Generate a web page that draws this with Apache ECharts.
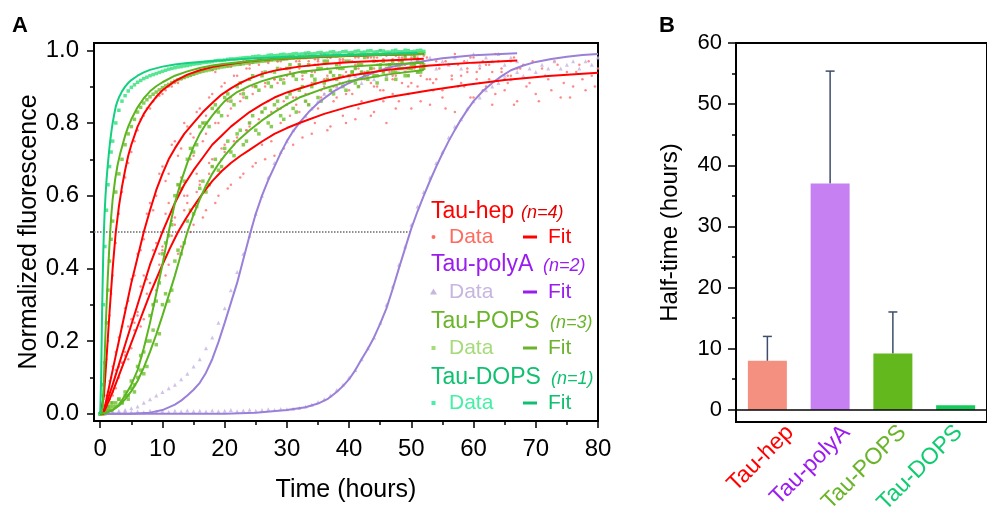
<!DOCTYPE html>
<html><head><meta charset="utf-8">
<script src="https://cdn.jsdelivr.net/npm/echarts@6/dist/echarts.min.js"></script>
<style>html,body{margin:0;padding:0;background:#fff}#c{width:987px;height:517px}</style>
</head><body><div id="c"></div>
<script>
// ---------- Panel A : time axes (hours) ----------
const tA = [0,0.25,0.5,0.75,1,1.25,1.5,1.75,2,2.5,3,3.5,4,4.5,5,5.5,6,7,8,9,10,11,12,13,14,15,16,17,18,19,20,21,22,23,24,25,26,27,28,29,30,31,32,33,34,35,36,37,38,39,40,41,42,43,44,45,46,47,48,49,50,51,52];
const tH = [6.5,7.5,8.5,9.5,10.5,11.5,12.5,13.5,14.5,15.5,16.5,17.5,18.5,19.5,20.5,21.5,22.5,23.5,24.5,25.5,26.5,27.5,28.5,29.5,30.5,31.5,32.5,33.5,34.5,35.5,36.5,37.5,38.5,39.5,40.5,41.5,42.5,43.5,44.5,45.5,46.5,47.5,48.5,49.5,50.5,51.5];
const t67 = [0,1,2,3,4,5,6,7,8,9,10,11,12,13,14,15,16,17,18,19,20,21,22,23,24,25,26,27,28,29,30,31,32,33,34,35,36,37,38,39,40,41,42,43,44,45,46,47,48,49,50,51,52,53,54,55,56,57,58,59,60,61,62,63,64,65,66,67];
const tH67 = [0.5,1.5,2.5,3.5,4.5,5.5,6.5,7.5,8.5,9.5,10.5,11.5,12.5,13.5,14.5,15.5,16.5,17.5,18.5,19.5,20.5,21.5,22.5,23.5,24.5,25.5,26.5,27.5,28.5,29.5,30.5,31.5,32.5,33.5,34.5,35.5,36.5,37.5,38.5,39.5,40.5,41.5,42.5,43.5,44.5,45.5,46.5,47.5,48.5,49.5,50.5,51.5,52.5,53.5,54.5,55.5,56.5,57.5,58.5,59.5,60.5,61.5,62.5,63.5,64.5,65.5,66.5];
const t80 = [0,1,2,3,4,5,6,7,8,9,10,11,12,13,14,15,16,17,18,19,20,21,22,23,24,25,26,27,28,29,30,31,32,33,34,35,36,37,38,39,40,41,42,43,44,45,46,47,48,49,50,51,52,53,54,55,56,57,58,59,60,61,62,63,64,65,66,67,68,69,70,71,72,73,74,75,76,77,78,79,80];
const tH80 = [0.5,1.5,2.5,3.5,4.5,5.5,6.5,7.5,8.5,9.5,10.5,11.5,12.5,13.5,14.5,15.5,16.5,17.5,18.5,19.5,20.5,21.5,22.5,23.5,24.5,25.5,26.5,27.5,28.5,29.5,30.5,31.5,32.5,33.5,34.5,35.5,36.5,37.5,38.5,39.5,40.5,41.5,42.5,43.5,44.5,45.5,46.5,47.5,48.5,49.5,50.5,51.5,52.5,53.5,54.5,55.5,56.5,57.5,58.5,59.5,60.5,61.5,62.5,63.5,64.5,65.5,66.5,67.5,68.5,69.5,70.5,71.5,72.5,73.5,74.5,75.5,76.5,77.5,78.5,79.5];

// ---------- Panel A : measured data (normalized fluorescence) ----------
const hepA_data = [0,0.01,0.04,0.09,0.15,0.2,0.27,0.33,0.38,0.47,0.55,0.61,0.65,0.69,0.72,0.75,0.78,
  0.82,0.84,0.87,0.88,0.9,0.91,0.92,0.93,0.935,0.94,0.95,0.945,0.955,0.96,0.955,0.965,0.97,0.96,0.97,0.975,
  0.965,0.98,0.97,0.975,0.985,0.97,0.98,0.985,0.975,0.99,0.98,0.985,0.975,0.99,0.98,0.985,0.99,0.98,0.99,0.985,
  0.975,0.99,0.985,0.98,0.99,0.985];
const hepA_data2 = [0.81,0.84,0.86,0.875,0.89,0.9,0.91,0.925,0.93,0.94,
  0.945,0.95,0.94,0.96,0.955,0.965,0.96,0.97,0.965,0.975,
  0.97,0.98,0.97,0.975,0.985,0.97,0.98,0.99,0.975,0.985,
  0.98,0.99,0.975,0.985,0.99,0.98,0.985,0.99,0.98,0.975,
  0.99,0.985,0.98,0.99,0.985,0.99];
const hepB_data = [0,0,0.01,0.02,0.05,0.06,0.09,0.1,0.13,0.17,0.21,0.24,0.29,0.31,0.37,0.38,0.44,
  0.48,0.58,0.6,0.68,0.66,0.75,0.73,0.79,0.76,0.84,0.82,0.88,0.84,0.91,0.87,0.93,0.89,0.95,0.9,0.94,
  0.97,0.92,0.95,0.98,0.93,0.96,0.99,0.94,0.97,0.92,0.98,0.95,0.93,0.99,0.96,0.94,0.98,0.95,1.0,0.96,
  0.93,0.98,0.96,0.99,0.94,0.97];
const hepB_data2 = [0.45,0.55,0.56,0.66,0.64,0.74,0.71,0.8,0.77,0.83,
  0.8,0.87,0.83,0.9,0.86,0.93,0.88,0.95,0.9,0.96,
  0.91,0.94,0.97,0.92,0.95,0.98,0.93,0.97,0.94,0.99,
  0.95,0.92,0.97,0.94,0.99,0.95,0.93,0.98,0.96,0.94,
  0.99,0.95,0.97,0.93,0.98,0.96];
const hepC_data = [0,0.01,0.06,0.13,0.17,0.26,0.28,0.38,0.36,0.47,
  0.46,0.58,0.54,0.65,0.6,0.71,0.64,0.77,0.7,0.8,
  0.74,0.84,0.76,0.87,0.8,0.9,0.83,0.86,0.92,0.84,
  0.93,0.87,0.95,0.86,0.91,0.96,0.88,0.94,0.9,0.97,
  0.89,0.95,0.92,0.98,0.9,0.96,0.93,0.88,0.97,0.94,
  0.91,0.98,0.95,0.92,0.97,0.89,0.96,0.99,0.93,0.95,
  0.98,0.91,0.96,0.94,0.99,0.92,0.97,0.95];
const hepC_data2 = [0,0.04,0.12,0.14,0.24,0.25,0.35,0.37,0.45,0.44,
  0.55,0.53,0.63,0.6,0.7,0.66,0.75,0.69,0.8,0.73,
  0.82,0.75,0.86,0.78,0.88,0.81,0.9,0.83,0.91,0.86,
  0.94,0.85,0.92,0.88,0.96,0.87,0.93,0.9,0.96,0.88,
  0.97,0.9,0.94,0.91,0.97,0.89,0.95,0.93,0.99,0.9,
  0.96,0.93,0.98,0.91,0.95,0.97,0.92,0.96,0.9,0.98,
  0.94,0.97,0.92,0.99,0.95,0.93,0.98];
const hepD_data = [0,0.02,0.05,0.1,0.16,0.18,0.27,0.26,0.36,0.34,
  0.45,0.41,0.52,0.46,0.58,0.52,0.63,0.56,0.68,0.6,
  0.72,0.63,0.75,0.66,0.79,0.69,0.74,0.82,0.71,0.8,
  0.85,0.74,0.83,0.88,0.77,0.84,0.9,0.79,0.87,0.82,
  0.91,0.81,0.86,0.93,0.83,0.89,0.8,0.92,0.86,0.94,
  0.84,0.9,0.95,0.85,0.92,0.87,0.96,0.83,0.91,0.94,
  0.87,0.95,0.9,0.85,0.97,0.89,0.93,0.86,0.96,0.91,
  0.88,0.95,0.92,0.97,0.87,0.94,0.9,0.96,0.89,0.93,0.95];
const hepD_data2 = [0.01,0.04,0.07,0.14,0.15,0.23,0.24,0.33,0.3,0.41,
  0.38,0.49,0.44,0.56,0.5,0.61,0.54,0.66,0.58,0.7,
  0.62,0.74,0.65,0.78,0.68,0.8,0.7,0.75,0.84,0.73,
  0.82,0.87,0.76,0.85,0.8,0.89,0.78,0.86,0.91,0.8,
  0.88,0.84,0.92,0.82,0.9,0.86,0.94,0.84,0.91,0.88,
  0.95,0.86,0.92,0.89,0.96,0.84,0.93,0.9,0.97,0.87,
  0.92,0.89,0.96,0.88,0.94,0.91,0.85,0.95,0.9,0.97,
  0.86,0.93,0.89,0.96,0.91,0.87,0.94,0.92,0.97,0.9];
const polyA1_data = [0,0.005,0.003,0.008,0.01,0.015,0.02,0.03,0.04,0.05,
  0.06,0.07,0.08,0.095,0.11,0.13,0.15,0.18,0.21,0.25,
  0.29,0.34,0.39,0.44,0.49,0.55,0.6,0.65,0.69,0.72,
  0.75,0.78,0.8,0.82,0.84,0.86,0.88,0.89,0.9,0.91,
  0.92,0.93,0.91,0.94,0.92,0.95,0.93,0.96,0.94,0.95,
  0.97,0.94,0.96,0.98,0.95,0.97,0.96,0.98,0.95,0.97,
  0.99,0.96,0.98,0.97,0.99,0.96,0.98,0.97];
const polyA2_data = [0.005,0.003,0.006,0.004,0.007,0.005,0.006,0.004,0.008,0.006,
  0.007,0.005,0.008,0.006,0.009,0.007,0.008,0.006,0.009,0.007,
  0.008,0.01,0.007,0.009,0.011,0.008,0.01,0.012,0.01,0.013,
  0.012,0.014,0.016,0.02,0.025,0.032,0.04,0.05,0.065,0.08,
  0.1,0.12,0.15,0.18,0.21,0.25,0.3,0.35,0.41,0.46,
  0.52,0.57,0.61,0.65,0.69,0.72,0.76,0.79,0.81,0.84,
  0.86,0.87,0.89,0.9,0.91,0.93,0.92,0.94,0.93,0.95,
  0.94,0.96,0.95,0.97,0.95,0.96,0.97,0.95,0.97,0.96,0.98];
const pops1_data = [0,0,0.05,0.14,0.25,0.34,0.42,0.48,0.53,0.61,0.66,0.7,0.74,0.77,0.79,0.81,0.83,
  0.855,0.872,0.885,0.897,0.906,0.915,0.922,0.928,0.934,0.94,0.944,0.948,0.952,0.955,0.958,0.961,0.963,0.966,0.968,0.97,
  0.972,0.974,0.975,0.977,0.978,0.979,0.98,0.981,0.982,0.983,0.984,0.984,0.985,0.986,0.986,0.987,0.987,0.988,0.988,0.989,
  0.989,0.99,0.99,0.99,0.991,0.991];
const pops1_data2 = [0.843,0.864,0.879,0.891,0.902,0.911,0.919,0.925,0.931,0.937,
  0.942,0.946,0.95,0.954,0.957,0.96,0.962,0.965,0.967,0.969,
  0.971,0.973,0.975,0.976,0.978,0.979,0.98,0.981,0.982,0.983,
  0.984,0.985,0.985,0.986,0.987,0.987,0.988,0.988,0.989,0.989,
  0.99,0.99,0.991,0.991,0.991,0.992];
const pops2_data = [0,0.01,0,0.02,0.01,0.02,0.01,0.03,0.02,0.03,0.04,0.03,0.06,0.05,0.09,0.08,0.13,
  0.17,0.27,0.31,0.44,0.49,0.6,0.62,0.7,0.72,0.79,0.8,0.84,0.83,0.87,0.86,0.9,0.88,0.92,0.9,0.93,
  0.91,0.94,0.92,0.95,0.93,0.96,0.94,0.93,0.95,0.97,0.94,0.96,0.95,0.97,0.95,0.96,0.94,0.97,0.96,0.95,
  0.97,0.96,0.98,0.95,0.97,0.96];
const pops2_data2 = [0.16,0.2,0.3,0.36,0.47,0.52,0.63,0.64,0.73,0.74,
  0.8,0.79,0.85,0.82,0.88,0.85,0.91,0.87,0.93,0.89,
  0.94,0.9,0.95,0.91,0.96,0.92,0.94,0.96,0.92,0.95,
  0.97,0.93,0.95,0.97,0.94,0.96,0.98,0.95,0.93,0.97,
  0.96,0.94,0.97,0.95,0.98,0.95];
const pops3_data = [0,0,0.01,0,0.02,0.01,0.02,0.01,0.03,0.02,0.04,0.03,0.05,0.04,0.07,0.06,0.1,
  0.11,0.2,0.19,0.3,0.31,0.42,0.44,0.53,0.55,0.62,0.61,0.68,0.67,0.73,0.72,0.77,0.74,0.8,0.78,0.83,
  0.8,0.85,0.82,0.87,0.84,0.89,0.86,0.9,0.87,0.91,0.89,0.92,0.9,0.93,0.91,0.94,0.92,0.93,0.95,0.92,
  0.94,0.95,0.93,0.96,0.94,0.95];
const pops3_data2 = [0.12,0.13,0.23,0.22,0.33,0.34,0.45,0.47,0.56,0.57,
  0.64,0.63,0.7,0.68,0.75,0.71,0.78,0.75,0.82,0.77,
  0.84,0.79,0.86,0.81,0.88,0.83,0.9,0.85,0.91,0.86,
  0.92,0.88,0.93,0.89,0.94,0.9,0.93,0.95,0.91,0.94,
  0.96,0.92,0.95,0.93,0.96,0.94];
const dops_data = [0,0.08,0.3,0.46,0.56,0.63,0.68,0.72,0.75,0.8,0.835,0.86,0.875,0.888,0.898,0.905,0.912,
  0.922,0.93,0.936,0.942,0.948,0.952,0.955,0.958,0.962,0.964,0.967,0.969,0.972,0.973,
  0.976,0.977,0.979,0.98,0.983,0.982,0.986,0.985,0.988,0.987,
  0.99,0.989,0.992,0.99,0.993,0.991,0.995,0.992,0.996,0.993,
  0.997,0.994,0.998,0.995,0.999,0.995,0.998,0.996,1.0,0.996,0.999,0.997];
const dops_data2 = [0.917,0.926,0.933,0.939,0.945,0.95,0.954,0.957,0.96,0.963,
  0.966,0.968,0.971,0.972,0.975,0.976,0.978,0.98,0.982,0.984,
  0.983,0.987,0.986,0.989,0.988,0.991,0.99,0.993,0.991,0.994,
  0.992,0.996,0.993,0.997,0.994,0.998,0.995,0.999,0.996,0.998,
  0.995,1.0,0.996,0.999,0.997,1.0];

// ---------- Panel A : fitted curves [time, value] ----------
const hepA_fit = [[0,0],[0.3,0],[0.6,0.05],[1,0.15],[1.5,0.28],[2,0.4],[2.5,0.5],[3,0.57],[3.5,0.625],[4,0.67],[4.5,0.71],[5,0.74],[6,0.79],[7,0.825],[8,0.85],[9,0.872],[10,0.89],[12,0.915],[14,0.933],[16,0.945],[18,0.954],[20,0.96],[24,0.97],[28,0.976],[34,0.981],[40,0.985],[46,0.988],[52,0.99]];
const hepB_fit = [[0,0],[0.5,0],[1,0.04],[2,0.12],[3,0.2],[4,0.28],[5,0.36],[6,0.43],[7,0.5],[8,0.56],[9,0.615],[10,0.66],[11,0.7],[12,0.73],[13.5,0.77],[15,0.8],[16.5,0.83],[18,0.855],[19.5,0.878],[21,0.895],[22.5,0.91],[24,0.922],[26,0.935],[28,0.944],[30,0.95],[32,0.955],[36,0.962],[40,0.967],[46,0.972],[52,0.977]];
const hepC_fit = [[0,0],[0.5,0],[1,0.03],[2,0.08],[3,0.135],[4,0.19],[5,0.245],[6,0.3],[7,0.355],[8,0.41],[9,0.455],[10,0.5],[11,0.54],[12,0.58],[13.5,0.63],[15,0.67],[16.5,0.705],[18,0.74],[19.5,0.765],[21,0.79],[22.5,0.81],[24,0.83],[26,0.851],[28,0.87],[30,0.884],[32,0.895],[36,0.915],[40,0.93],[46,0.946],[53,0.958],[60,0.966],[67,0.972]];
const hepD_fit = [[0,0],[0.5,0],[1,0.02],[2,0.06],[3,0.105],[4,0.15],[5,0.195],[6,0.24],[7,0.285],[8,0.33],[9,0.37],[10,0.41],[11.2,0.455],[12.5,0.5],[13.7,0.535],[15,0.57],[16.5,0.607],[18,0.64],[19.5,0.667],[21,0.69],[22.5,0.709],[24,0.726],[26,0.749],[28,0.77],[30,0.786],[32,0.8],[36,0.825],[40,0.845],[46,0.87],[53,0.89],[59,0.905],[65,0.918],[72,0.929],[80,0.938]];
const polyA1_fit = [[0,0],[5,0],[8,0.003],[10,0.01],[12,0.025],[13,0.036],[14,0.05],[15,0.066],[16,0.085],[17,0.113],[18,0.15],[19,0.197],[20,0.25],[21,0.305],[22,0.36],[23,0.425],[24,0.49],[25,0.55],[26,0.6],[27,0.643],[28,0.68],[29,0.717],[30,0.75],[31,0.777],[32,0.8],[33.5,0.83],[35,0.855],[37.5,0.887],[40,0.91],[42.5,0.929],[45,0.945],[47.5,0.957],[50,0.965],[55,0.978],[60,0.986],[67,0.992]];
const polyA2_fit = [[0,0],[20,0],[25,0.003],[30,0.01],[33,0.018],[35,0.028],[36.5,0.04],[38,0.06],[39,0.076],[40,0.095],[41,0.12],[42,0.15],[43,0.178],[44,0.21],[45,0.248],[46,0.29],[47,0.343],[48,0.4],[49,0.455],[50,0.51],[51,0.557],[52,0.6],[53,0.641],[54,0.68],[55,0.716],[56,0.75],[57,0.781],[58,0.81],[59,0.836],[60,0.86],[61.5,0.888],[63,0.91],[64.5,0.929],[66,0.945],[68,0.958],[70,0.968],[72.5,0.976],[75,0.982],[77.5,0.987],[80,0.99]];
const pops1_fit = [[0,0],[0.4,0.02],[0.6,0.1],[0.8,0.2],[1,0.29],[1.2,0.37],[1.5,0.47],[1.75,0.54],[2,0.59],[2.4,0.645],[2.8,0.685],[3.2,0.715],[3.6,0.74],[4,0.765],[4.5,0.79],[5,0.81],[6,0.843],[7,0.868],[8,0.887],[9,0.901],[10,0.912],[12,0.93],[14,0.942],[16,0.951],[18,0.958],[20,0.963],[25,0.972],[30,0.978],[35,0.982],[40,0.985],[46,0.988],[52,0.99]];
const pops2_fit = [[0,0],[1,0.003],[2,0.01],[3,0.025],[4,0.05],[5,0.08],[6,0.12],[7,0.18],[8,0.25],[9,0.33],[10,0.41],[11,0.5],[12,0.58],[13,0.64],[14,0.69],[15,0.735],[16,0.77],[17,0.797],[18,0.82],[19,0.841],[20,0.86],[22,0.885],[24,0.902],[26,0.915],[28,0.925],[32,0.94],[36,0.948],[40,0.955],[46,0.961],[52,0.966]];
const pops3_fit = [[0,0],[1,0.003],[2,0.01],[3,0.022],[4,0.04],[5,0.062],[6,0.09],[7,0.127],[8,0.17],[9,0.218],[10,0.27],[11,0.325],[12,0.38],[13,0.44],[14,0.5],[15,0.548],[16,0.59],[17,0.628],[18,0.66],[19,0.687],[20,0.71],[22,0.75],[24,0.78],[26,0.807],[28,0.83],[30,0.851],[32,0.87],[36,0.895],[40,0.915],[46,0.933],[52,0.946]];
const dops_fit = [[0,0],[0.15,0.1],[0.3,0.28],[0.4,0.37],[0.5,0.45],[0.6,0.505],[0.7,0.55],[0.85,0.6],[1,0.64],[1.15,0.672],[1.3,0.7],[1.45,0.727],[1.6,0.75],[1.8,0.777],[2,0.8],[2.25,0.824],[2.5,0.845],[2.75,0.859],[3,0.87],[3.5,0.887],[4,0.9],[4.5,0.91],[5,0.918],[6,0.93],[7,0.939],[8,0.946],[10,0.955],[12,0.961],[14,0.965],[16,0.968],[21,0.974],[25,0.978],[30,0.982],[35,0.985],[40,0.988],[45,0.99],[51,0.993]];
const halfLine = [[-1,0.5],[49.8,0.5]];

// ---------- Panel A : ticks ----------
const xMajor = [0,10,20,30,40,50,60,70,80];
const xMinor = [5,15,25,35,45,55,65,75];
const yMajor = [0,0.2,0.4,0.6,0.8,1.0];
const yMinor = [0.1,0.3,0.5,0.7,0.9];

// ---------- Panel B ----------
const categories = ['Tau-hep','Tau-polyA','Tau-POPS','Tau-DOPS'];
const halfTimes = [8.0, 37.0, 9.2, 0.75];
const errTop = [12.0, 55.4, 16.0, null];
const bMajor = [0,10,20,30,40,50,60];
const bMinor = [5,15,25,35,45,55];
const barColors = ['#F4907F','#C680F2','#62B81C','#12CC5A'];
const catColors = ['#FF0000','#9A1CF0','#6AB42A','#10CC70'];

function zip(ts, ys){ return ys.map((y,i)=>[ts[i], y]); }

const FONT = 'Liberation Sans, Arial, sans-serif';
const chart = echarts.init(document.getElementById('c'));

function scat(data, color, symbol, size){
  return {type:'scatter', xAxisIndex:0, yAxisIndex:0, data, symbol, symbolSize:size,
    itemStyle:{color}, silent:true};
}
function fit(data, color){
  return {type:'line', xAxisIndex:0, yAxisIndex:0, data, showSymbol:false, smooth:false,
    lineStyle:{color, width:2}, silent:true};
}
const black = '#000';
const legendRows = [];
function txt(x, y, s, color, size, italic){
  legendRows.push({type:'text', x:x, y:y, style:{text:s, fill:color, font:(italic?'italic ':'')+size+'px '+FONT, verticalAlign:'middle', align:'left'}});
}
txt(431,212,'Tau-hep','#FF0000',23); txt(521,213,'(n=4)','#E00000',18,true);
txt(449,237,'Data','#FF6B5E',21); txt(548,237,'Fit','#FF0000',21);
txt(431,265,'Tau-polyA','#9A1CF0',23); txt(543,266,'(n=2)','#9A1CF0',18,true);
txt(449,292,'Data','#C6B6E0',21); txt(548,292,'Fit','#9A1CF0',21);
txt(431,322,'Tau-POPS','#6AB42A',23); txt(550,323,'(n=3)','#6AB42A',18,true);
txt(449,348,'Data','#A5DB78',21); txt(548,348,'Fit','#6AB42A',21);
txt(431,378,'Tau-DOPS','#10C070',23); txt(551,379,'(n=1)','#10C070',18,true);
txt(449,403,'Data','#45F0A5',21); txt(548,403,'Fit','#10C070',21);

const graphics = legendRows.concat([
  {type:'text', x:12, y:26, style:{text:'A', fill:'#000', font:'bold 22px '+FONT, verticalAlign:'middle'}},
  {type:'text', x:659, y:26, style:{text:'B', fill:'#000', font:'bold 22px '+FONT, verticalAlign:'middle'}},
  {type:'circle', shape:{cx:433.5, cy:237, r:2}, style:{fill:'#FF6B5E'}},
  {type:'polygon', shape:{points:[[433.5,288.5],[437,294.5],[430,294.5]]}, style:{fill:'#C6B6E0'}},
  {type:'rect', shape:{x:431.5, y:346, width:4, height:4}, style:{fill:'#A5DB78'}},
  {type:'rect', shape:{x:431.5, y:401, width:4, height:4}, style:{fill:'#45F0A5'}},
  {type:'rect', shape:{x:523, y:235.5, width:14, height:3}, style:{fill:'#FF0000'}},
  {type:'rect', shape:{x:523, y:290.5, width:14, height:3}, style:{fill:'#9A1CF0'}},
  {type:'rect', shape:{x:523, y:346.5, width:14, height:3}, style:{fill:'#6AB42A'}},
  {type:'rect', shape:{x:523, y:401.5, width:14, height:3}, style:{fill:'#10C070'}}
]);

const option = {
  animation:false,
  textStyle:{fontFamily:FONT},
  grid:[
    {left:94, top:43, width:504, height:378, show:true, borderColor:black, borderWidth:2, containLabel:false},
    {left:736, top:43, right:-9, bottom:95, show:true, borderColor:black, borderWidth:2, containLabel:false},
    {left:762, top:43, right:-35, bottom:95, show:false, containLabel:false}
  ],
  xAxis:[
    {gridIndex:0, type:'value', min:-1, max:80, position:'bottom',
      axisLine:{show:true, onZero:false, lineStyle:{color:black, width:2}},
      axisTick:{show:true, length:7, customValues:xMajor, lineStyle:{color:black, width:1.5}},
      axisLabel:{customValues:xMajor, fontSize:24, color:black, margin:16},
      splitLine:{show:false},
      name:'Time (hours)', nameLocation:'middle', nameGap:57, nameMoveOverlap:false, nameTextStyle:{fontSize:25, color:black}},
    {gridIndex:0, type:'value', min:-1, max:80, position:'bottom',
      axisLine:{show:false, onZero:false}, axisTick:{show:true, length:4, customValues:xMinor, lineStyle:{color:black, width:1.5}},
      axisLabel:{show:false}, splitLine:{show:false}},
    {gridIndex:1, type:'category', data:categories, position:'bottom',
      axisLine:{show:true, onZero:false, lineStyle:{color:black, width:2}}, axisTick:{show:false}, axisLabel:{show:false}},
    {gridIndex:2, type:'category', data:categories, position:'bottom',
      axisLine:{show:false, onZero:false}, axisTick:{show:false},
      axisLabel:{show:true, rotate:45, fontSize:23, margin:25, interval:0,
        color:(v,i)=>catColors[categories.indexOf(v)]}}
  ],
  yAxis:[
    {gridIndex:0, type:'value', min:-0.02, max:1.02, position:'left',
      axisLine:{show:true, onZero:false, lineStyle:{color:black, width:2}},
      axisTick:{show:true, length:7, customValues:yMajor, lineStyle:{color:black, width:1.5}},
      axisLabel:{customValues:yMajor, fontSize:24, color:black, margin:15, formatter:v=>Number(v).toFixed(1)},
      splitLine:{show:false},
      name:'Normalized fluorescence', nameLocation:'middle', nameGap:52, nameMoveOverlap:false, nameTextStyle:{fontSize:25, color:black}},
    {gridIndex:0, type:'value', min:-0.02, max:1.02, position:'left',
      axisLine:{show:false, onZero:false}, axisTick:{show:true, length:4, customValues:yMinor, lineStyle:{color:black, width:1.5}},
      axisLabel:{show:false}, splitLine:{show:false}},
    {gridIndex:1, type:'value', min:-2, max:60, position:'left',
      axisLine:{show:true, onZero:false, lineStyle:{color:black, width:2}},
      axisTick:{show:true, length:8, customValues:bMajor, lineStyle:{color:black, width:1.5}},
      axisLabel:{customValues:bMajor, fontSize:22, color:black, margin:14},
      splitLine:{show:false},
      name:'Half-time (hours)', nameLocation:'middle', nameGap:54, nameMoveOverlap:false, nameTextStyle:{fontSize:24, color:black}},
    {gridIndex:1, type:'value', min:-2, max:60, position:'left',
      axisLine:{show:false, onZero:false}, axisTick:{show:true, length:4, customValues:bMinor, lineStyle:{color:black, width:1.5}},
      axisLabel:{show:false}, splitLine:{show:false}},
    {gridIndex:2, type:'value', min:-2, max:60, show:false}
  ],
  graphic: graphics,
  series:[
    scat(zip(t80, hepD_data), '#FF6B6B', 'circle', 2.5),
    scat(zip(tH80, hepD_data2), '#FF6B6B', 'circle', 2.5),
    scat(zip(t67, hepC_data), '#FF6B6B', 'circle', 2.5),
    scat(zip(tH67, hepC_data2), '#FF6B6B', 'circle', 2.5),
    scat(zip(tA, hepB_data), '#FF6B6B', 'circle', 2.5),
    scat(zip(tH, hepB_data2), '#FF6B6B', 'circle', 2.5),
    scat(zip(tA, hepA_data), '#FF6B6B', 'circle', 2.5),
    scat(zip(tH, hepA_data2), '#FF6B6B', 'circle', 2.5),
    scat(zip(t67, polyA1_data), '#C5B3E2', 'triangle', 4),
    scat(zip(t80, polyA2_data), '#C5B3E2', 'triangle', 4),
    scat(zip(tA, pops3_data), '#6CC02C', 'rect', 3.5),
    scat(zip(tH, pops3_data2), '#6CC02C', 'rect', 3.5),
    scat(zip(tA, pops2_data), '#6CC02C', 'rect', 3.5),
    scat(zip(tH, pops2_data2), '#6CC02C', 'rect', 3.5),
    scat(zip(tA, pops1_data), '#6CC02C', 'rect', 3.5),
    scat(zip(tH, pops1_data2), '#6CC02C', 'rect', 3.5),
    scat(zip(tA, dops_data), '#2EE07A', 'rect', 3.5),
    scat(zip(tH, dops_data2), '#2EE07A', 'rect', 3.5),
    {type:'line', xAxisIndex:0, yAxisIndex:0, data:halfLine, showSymbol:false, silent:true,
      lineStyle:{color:'#6A6A6A', width:1.5, type:'dotted'}},
    fit(polyA1_fit, '#9A80D8'),
    fit(polyA2_fit, '#9A80D8'),
    fit(hepD_fit, '#FF0000'),
    fit(hepC_fit, '#FF0000'),
    fit(hepB_fit, '#FF0000'),
    fit(hepA_fit, '#FF0000'),
    fit(pops3_fit, '#5BB520'),
    fit(pops2_fit, '#5BB520'),
    fit(pops1_fit, '#5BB520'),
    fit(dops_fit, '#12D080'),
    {type:'bar', xAxisIndex:2, yAxisIndex:2, barWidth:39, silent:true,
      data: halfTimes.map((v,i)=>({value:v, itemStyle:{color:barColors[i]}})),
      markLine:{silent:true, symbol:['none','none'], label:{show:false},
        lineStyle:{color:black, width:1.5, type:'solid'}, data:[{yAxis:0}]}},
    {type:'custom', xAxisIndex:2, yAxisIndex:2, silent:true,
      data: halfTimes.map((v,i)=>[i, v, errTop[i]]).filter(d=>d[2]!=null),
      renderItem:function(params, api){
        const b = api.coord([api.value(0), api.value(1)]);
        const t = api.coord([api.value(0), api.value(2)]);
        const st = {stroke:'#3E4D6B', lineWidth:1.5};
        return {type:'group', children:[
          {type:'line', shape:{x1:b[0], y1:b[1], x2:t[0], y2:t[1]}, style:st},
          {type:'line', shape:{x1:t[0]-4.5, y1:t[1], x2:t[0]+4.5, y2:t[1]}, style:st}
        ]};
      }}
  ]
};
chart.setOption(option);
</script></body></html>
